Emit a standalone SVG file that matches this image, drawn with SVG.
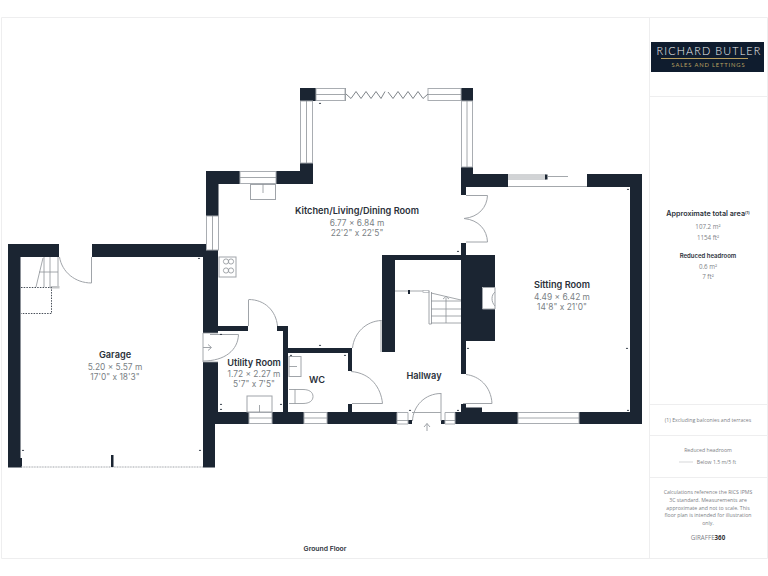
<svg xmlns="http://www.w3.org/2000/svg" width="768" height="576" viewBox="0 0 768 576">
<style>
.w{fill:#1b2532}
.win{fill:#fff;stroke:#a9adb2;stroke-width:1}
.ln{fill:none;stroke:#8d9297;stroke-width:.8}
.dr{fill:none;stroke:#a0a4a9;stroke-width:1}
.frame{fill:none;stroke:#eeeeef;stroke-width:1}
text{font-family:"Inter","Liberation Sans",sans-serif;text-anchor:middle}
.rn{font-size:9.2px;font-weight:600;fill:#2b313a}
.rd{font-size:8.4px;fill:#7a7f85}
.s{font-family:"Open Sans","Liberation Sans",sans-serif;fill:#7d8186;font-size:5.2px}
.v{font-size:6.2px}
.sb{font-family:"Inter","Liberation Sans",sans-serif;fill:#2b313a;font-weight:600}
.t{fill:#1b2532}
</style>
<defs><path id="tk" d="M-1.2 0L0-1.6L1.2 0Z"/></defs>
<rect width="768" height="576" fill="#fff"/>
<g id="frame">
<path class="frame" d="M1.500 17.500H767.500V558.500H1.500ZM649.500 17.500V558.500M649.500 96.500H767.500M649.500 404.500H767.500M649.500 435.500H767.500M649.500 477.500H767.500"/>
</g>
<g id="logo">
<rect x="651" y="42" width="113" height="30" fill="#0f1c2e"/>
<rect x="661" y="58" width="87" height="1" fill="#b9a160"/>
<text x="709" y="55" style="font-family:'Lato','Liberation Sans',sans-serif;font-size:10.800px;font-weight:300;letter-spacing:1.150px;fill:#f2f2f2">RICHARD BUTLER</text>
<text x="708.500" y="67" style="font-family:'Lato','Liberation Sans',sans-serif;font-size:5.800px;letter-spacing:.85px;fill:#b9a160">SALES AND LETTINGS</text>
</g>
<g id="walls">
<path class="w" d="M8 244H59V257H20.500V458H22V467.500H8Z"/>
<path class="w" d="M92 244H206V257H92Z"/>
<path class="w" d="M203 244H218V333H203Z"/>
<path class="w" d="M203 362H218V412H215V467.500H203Z"/>
<path class="w" d="M206 171H240V184H218.500V216H206Z"/>
<path class="w" d="M276 171H300V163H313V184H276Z"/>
<rect class="w" x="300" y="88" width="16" height="13"/>
<rect class="w" x="461" y="88" width="12" height="13"/>
<path class="w" d="M461 167H473V174H508V187H466V195H461Z"/>
<path class="w" d="M587 174H642V424H579V412H630V187H587Z"/>
<path class="w" d="M461 243H466V255H495V287H482V309H495V341H466V374H461Z"/>
<path class="w" d="M382 255H461V260H395V352H382Z"/>
<path class="w" d="M218 326H248V331H218Z"/>
<path class="w" d="M277 326H288V412H283V331H277Z"/>
<path class="w" d="M288 348H352V371H348V353H288Z"/>
<rect class="w" x="348" y="404" width="4" height="8"/>
<path class="w" d="M215 412H249V424H215Z"/>
<path class="w" d="M272 412H304V424H272Z"/>
<path class="w" d="M327 412H397V424H327Z"/>
<rect class="w" x="408" y="420" width="4" height="4"/>
<rect class="w" x="441" y="420" width="4" height="4"/>
<path class="w" d="M455 412H461V404H466V407.500H482V412H518V424H455Z"/>
</g>
<g id="windows">
<rect class="win" x="316" y="88.500" width="29" height="12"/><path class="ln" d="M316 94.500H345"/>
<rect class="win" x="428" y="88.500" width="33" height="12"/><path class="ln" d="M428 94.500H461"/>
<rect class="win" x="300.500" y="101" width="12" height="62"/><path class="ln" d="M306.500 101V163"/>
<rect class="win" x="461.500" y="101" width="11" height="66"/><path class="ln" d="M467 101V167"/>
<rect class="win" x="240" y="171.500" width="36" height="12"/><path class="ln" d="M240 177.500H276"/>
<rect class="win" x="206.500" y="216" width="12" height="34"/><path class="ln" d="M212.500 216V250"/>
<rect class="win" x="249" y="412.500" width="23" height="11"/><path class="ln" d="M249 418H272"/>
<rect class="win" x="304" y="412.500" width="23" height="11"/><path class="ln" d="M304 418H327"/>
<rect class="win" x="518" y="412.500" width="61" height="11"/><path class="ln" d="M518 418H579"/>
<path class="win" d="M397 412.500H408V424H397ZM445 412.500H455V424H445Z"/><path class="ln" d="M397 420.500H408M445 420.500H455"/>
<path class="ln" d="M508 175H546M508 177H546M508 179H546M508 186.500H587"/>
<rect x="545" y="174.500" width="2.500" height="5" fill="#1b2532"/><path class="ln" d="M547 176.500H568"/>
<path class="ln" d="M412 412.500H441"/>
<path class="ln" d="M203 333H218M203 362H218M203 333V362"/>
<path class="ln" d="M345.500 88V101"/>
<path d="M346 94L351 98.500L356 91.500L361 98.500L366 91.500L371 98.500L376 91.500L381 98.500L385 91.500" fill="none" stroke="#80858a" stroke-width="1"/>
<path d="M388 92L393 98.500L398 91.500L403 98.500L408 91.500L413 98.500L418 91.500L423 98.500L428 94" fill="none" stroke="#80858a" stroke-width="1"/>
<path class="dr" d="M21 467H203" stroke-dasharray="1 .6"/>
<rect x="111" y="455" width="2.500" height="12" fill="#1b2532"/>
</g>
<g id="connectors">
<path class="dr" d="M91.500 257V283M91.500 283C75 283 62 272 59.500 257"/>
<path class="dr" d="M248.500 326V300M248.500 299.500C265 299.500 276 311 277.500 326"/>
<path class="dr" d="M210 334.500H238.500M238.500 334.500C238 350 225 361 203 361"/>
<path class="dr" d="M381 320V352M381.500 320.500C366 321 354 333 352.500 348"/>
<path class="dr" d="M351 371.500C371 373 381 388 382.500 403.500H352"/>
<path class="dr" d="M441 393V421M441 393.500C425 393.500 413 406 412.500 421"/>
<path class="dr" d="M466 374.500C479 376 491 386 492 403.500H463"/>
<path class="dr" d="M466 195.500H487.500C487 207 479 217 464 218.500C479 220 487 230 487.500 242H466"/>
<path class="dr" d="M424 427L427 423.500L430 427M427 423.500V431" stroke-width=".7"/>
<path class="dr" d="M203 347.500H211M208 344.500L211.500 347.500L208 350.500" stroke-width=".7"/>
</g>
<g id="stairs">
<path class="ln" d="M36 287L43 258M50 257V287M58 257V287M39 272H58M44 257V287"/>
<rect x="50" y="286" width="9.500" height="2.500" fill="#c4c6c8"/>
<path d="M21 287.500H51.500V313.500H21" fill="none" stroke="#333b46" stroke-width=".9" stroke-dasharray="1.500 1.200"/>
<path class="ln" d="M395 291H423"/>
<rect x="408" y="290" width="2" height="4" fill="#1b2532"/>
<rect x="423" y="290.500" width="6" height="2" fill="#fff" stroke="#a9adb2" stroke-width=".7"/>
<path class="dr" d="M429 291V324H431.500V292"/>
<path class="ln" d="M431 293L461 300M431 301H461M431 309H461M431 316H461M431 323H461M446 298V323"/>
<path class="ln" d="M443 299L446 296.500L449 299"/>
</g>
<g id="fixtures">
<rect class="dr" x="250.500" y="184.500" width="25" height="15" stroke-width="1.500"/><path class="ln" d="M263 184V193"/>
<rect class="dr" x="219" y="257" width="17" height="20" fill="#fff"/>
<circle class="ln" cx="226" cy="261.500" r="2.600"/><circle class="ln" cx="231" cy="261.500" r="2.600"/>
<circle class="ln" cx="226" cy="270.500" r="2.600"/><circle class="ln" cx="231" cy="270.500" r="2.600"/>
<rect class="dr" x="247" y="396" width="25" height="16" stroke-width="1.500"/><path class="ln" d="M259.500 405V412"/>
<rect class="dr" x="289" y="356.500" width="12" height="20" stroke-width="1.300"/><path class="ln" d="M289 366.500H297"/>
<path class="ln" d="M289 389.500H303C309 389.500 313 392 313 396.500C313 401 309 403.500 303 403.500H289M295 389.500V403.500"/>
<path class="dr" d="M482.500 287.500H495V309H482.500ZM495 292C491 295 491 302 495 306" stroke-width=".8" fill="#fff"/>
</g>
<g id="ticks" class="t">
<use href="#tk" x="199" y="259"/>
<use href="#tk" x="320" y="104"/>
<use href="#tk" x="23" y="451"/>
<use href="#tk" x="200" y="451"/>
<use href="#tk" x="221" y="335"/>
<use href="#tk" x="221" y="405"/>
<use href="#tk" x="221" y="410"/>
<use href="#tk" x="281" y="405"/>
<use href="#tk" x="291" y="356"/>
<use href="#tk" x="320" y="346"/>
<use href="#tk" x="345" y="356"/>
<use href="#tk" x="350" y="410"/>
<use href="#tk" x="410" y="411"/>
<use href="#tk" x="458" y="411"/>
<use href="#tk" x="458" y="252"/>
<use href="#tk" x="628" y="190"/>
<use href="#tk" x="628" y="411"/>
<use href="#tk" x="468" y="349"/>
<use href="#tk" x="627" y="349"/>
</g>
<g id="labels">
<text class="rn" x="115" y="358">Garage</text>
<text class="rd" x="115" y="370">5.20 x 5.57 m</text>
<text class="rd" x="115" y="380">17'0" x 18'3"</text>
<text class="rn" x="357" y="214">Kitchen/Living/Dining Room</text>
<text class="rd" x="357" y="226">6.77 x 6.84 m</text>
<text class="rd" x="357" y="236">22'2" x 22'5"</text>
<text class="rn" x="562" y="288">Sitting Room</text>
<text class="rd" x="562" y="300">4.49 x 6.42 m</text>
<text class="rd" x="562" y="310">14'8" x 21'0"</text>
<text class="rn" x="254" y="366">Utility Room</text>
<text class="rd" x="254" y="377">1.72 x 2.27 m</text>
<text class="rd" x="254" y="387">5'7" x 7'5"</text>
<text class="rn" x="317" y="383">WC</text>
<text class="rn" x="424" y="379">Hallway</text>
<text class="sb" x="325" y="551" style="font-size:6.800px">Ground Floor</text>
</g>
<g id="sidebar">
<text class="sb" x="708" y="216" style="font-size:7.200px">Approximate total area<tspan font-size="4" dy="-2">(1)</tspan></text>
<text class="s v" x="708" y="229">107.2 m²</text>
<text class="s v" x="708" y="240">1154 ft²</text>
<text class="sb" x="708" y="258" style="font-size:6px">Reduced headroom</text>
<text class="s v" x="708" y="269">0.6 m²</text>
<text class="s v" x="708" y="279">7 ft²</text>
<text class="s" x="708" y="422">(1) Excluding balconies and terraces</text>
<text class="s" x="708" y="452">Reduced headroom</text>
<path d="M679 462H693" stroke="#c4c6c8" stroke-width=".7" fill="none"/>
<text class="s" x="716.500" y="464">Below 1.5 m/5 ft</text>
<text class="s" x="708" y="494">Calculations reference the RICS IPMS</text>
<text class="s" x="708" y="502">3C standard. Measurements are</text>
<text class="s" x="708" y="510">approximate and not to scale. This</text>
<text class="s" x="708" y="517">floor plan is intended for illustration</text>
<text class="s" x="708" y="525">only.</text>
<text class="s" x="708" y="540" style="font-size:6.200px">GIRAFFE<tspan font-weight="700" fill="#333">360</tspan></text>
</g>
</svg>
